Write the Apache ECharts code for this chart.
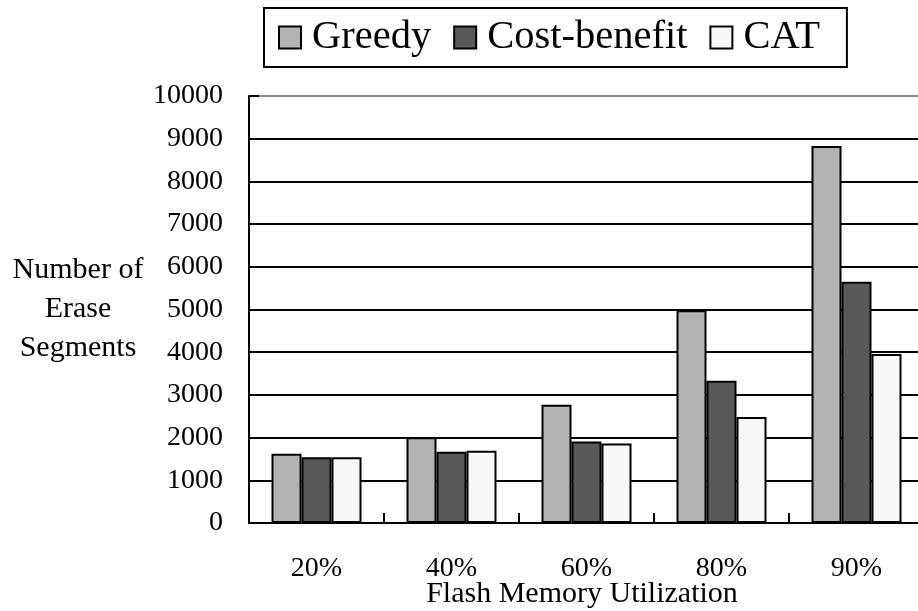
<!DOCTYPE html>
<html>
<head>
<meta charset="utf-8">
<script src="https://cdn.jsdelivr.net/npm/echarts@6/dist/echarts.min.js"></script>
<style>
  html, body { margin: 0; padding: 0; background: #fff; }
  #chart { width: 918px; height: 611px; }
</style>
</head>
<body>
<div id="chart"></div>
<script>
// Erase-segment counts by flash memory utilization, per cleaning policy
const categories = ['20%', '40%', '60%', '80%', '90%'];
const greedy = [1620, 2010, 2770, 4980, 8830];
const costBenefit = [1540, 1670, 1910, 3330, 5650];
const cat = [1540, 1690, 1860, 2480, 3960];
const yTicks = { min: 0, max: 10000, interval: 1000 };

const FONT = "'Liberation Serif', 'Times New Roman', serif";

const chart = echarts.init(document.getElementById('chart'), null, { renderer: 'canvas' });

// one colour per horizontal grid line; the top one is lighter
const gridColors = [];
for (let v = yTicks.min; v <= yTicks.max; v += yTicks.interval) {
  gridColors.push(v === yTicks.max ? '#888888' : '#000000');
}

function barSeries(name, data, color) {
  return {
    name: name,
    type: 'bar',
    data: data,
    barWidth: 30,
    barGap: '0%',
    itemStyle: { color: color, borderColor: '#000', borderWidth: 2 },
    emphasis: { disabled: true }
  };
}

chart.setOption({
  animation: false,
  backgroundColor: '#ffffff',
  textStyle: { fontFamily: FONT, color: '#000' },
  legend: {
    left: 264,
    top: 8,
    padding: [9, 27, 9, 14],
    itemGap: 22,
    itemWidth: 22,
    itemHeight: 22,
    icon: 'rect',
    borderColor: '#000',
    borderWidth: 2,
    textStyle: { fontFamily: FONT, fontSize: 40.5, color: '#000', padding: [0, 0, 0, 6] },
    itemStyle: { borderColor: '#000', borderWidth: 2 }
  },
  grid: { left: 249, top: 96, right: -6, bottom: 88, containLabel: false, outerBoundsMode: 'none' },
  xAxis: {
    type: 'category',
    data: categories,
    name: 'Flash Memory Utilization',
    nameLocation: 'middle',
    nameGap: 56,
    nameMoveOverlap: false,
    nameTextStyle: { fontFamily: FONT, fontSize: 30, color: '#000', verticalAlign: 'top', padding: [0, 9, 0, 0] },
    axisLine: { show: true, lineStyle: { color: '#000', width: 2 } },
    axisTick: { show: true, inside: true, length: 10, alignWithLabel: false, lineStyle: { color: '#000', width: 2 } },
    axisLabel: { fontFamily: FONT, fontSize: 28, color: '#000', margin: 32 },
    splitLine: { show: false }
  },
  yAxis: {
    type: 'value',
    min: yTicks.min,
    max: yTicks.max,
    interval: yTicks.interval,
    name: 'Number of\nErase\nSegments',
    nameLocation: 'middle',
    nameRotate: 0,
    nameGap: 171,
    nameMoveOverlap: false,
    nameTextStyle: { fontFamily: FONT, fontSize: 30, color: '#000', align: 'center', verticalAlign: 'middle', lineHeight: 39, padding: [12, 0, 0, 0] },
    axisLine: { show: true, lineStyle: { color: '#000', width: 2 } },
    axisTick: { show: true, inside: true, length: 10, lineStyle: { color: '#000', width: 2 } },
    axisLabel: { fontFamily: FONT, fontSize: 28, color: '#000', margin: 26, formatter: (v) => String(v) },
    splitLine: { show: true, lineStyle: { color: gridColors, width: 2 } }
  },
  series: [
    barSeries('Greedy', greedy, '#b3b3b3'),
    barSeries('Cost-benefit', costBenefit, '#595959'),
    barSeries('CAT', cat, '#f8f8f8')
  ]
});
</script>
</body>
</html>
